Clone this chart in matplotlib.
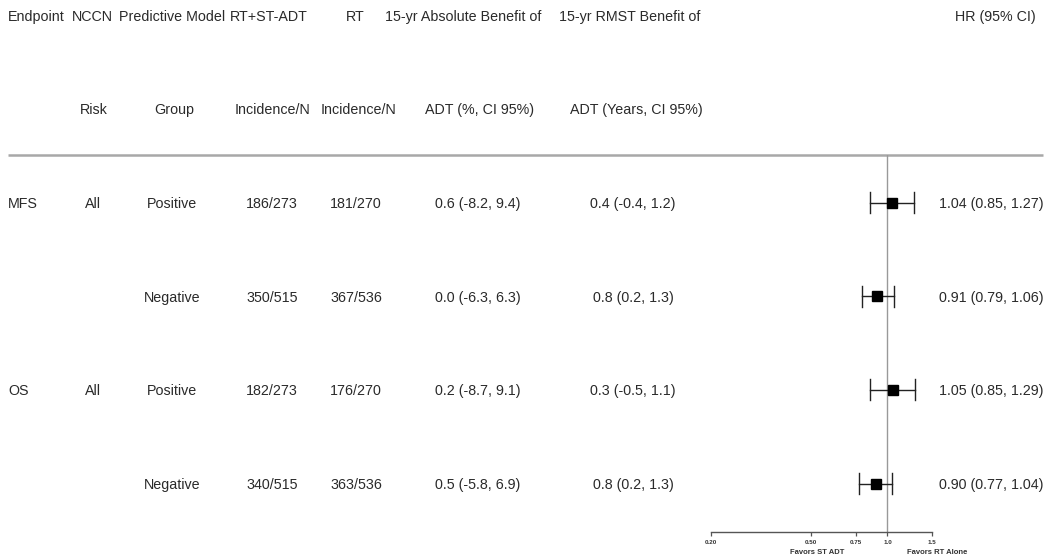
import matplotlib
matplotlib.use("Agg")
import matplotlib.pyplot as plt

plt.rcParams['font.family'] = ['Liberation Sans', 'DejaVu Sans']

# Table contents
header_top = ["Endpoint", "NCCN", "Predictive Model", "RT+ST-ADT", "RT",
              "15-yr Absolute Benefit of", "15-yr RMST Benefit of", "HR (95% CI)"]
header_bottom = ["Risk", "Group", "Incidence/N", "Incidence/N",
                 "ADT (%, CI 95%)", "ADT (Years, CI 95%)"]
endpoints = ["MFS", "", "OS", ""]
nccn = ["All", "", "All", ""]
groups = ["Positive", "Negative", "Positive", "Negative"]
adt_inc = ["186/273", "350/515", "182/273", "340/515"]
rt_inc = ["181/270", "367/536", "176/270", "363/536"]
abs_benefit = ["0.6 (-8.2, 9.4)", "0.0 (-6.3, 6.3)", "0.2 (-8.7, 9.1)", "0.5 (-5.8, 6.9)"]
rmst_benefit = ["0.4 (-0.4, 1.2)", "0.8 (0.2, 1.3)", "0.3 (-0.5, 1.1)", "0.8 (0.2, 1.3)"]
hr = [1.04, 0.91, 1.05, 0.90]
hr_lo = [0.85, 0.79, 0.85, 0.77]
hr_hi = [1.27, 1.06, 1.29, 1.04]
axis_ticks = [0.20, 0.50, 0.75, 1.0, 1.5]
axis_tick_labels = ["0.20", "0.50", "0.75", "1.0", "1.5"]

W, H = 1047, 558
fig = plt.figure(figsize=(W / 100, H / 100), dpi=100)

# Full-figure axes in pixel coordinates for the text table
tab = fig.add_axes([0, 0, 1, 1])
tab.set_xlim(0, W)
tab.set_ylim(H, 0)
tab.axis("off")

txt_color = "#2a2a2a"
fs = 10.3
half_cap = 5.1  # half the cap height in pixels, to place baselines


def put(x, y_mid, s, ha="center"):
    tab.text(x, y_mid + half_cap, s, ha=ha, va="baseline", fontsize=fs, color=txt_color)


# Column header text
head1_x = [8, 92, 172, 269, 355, 463, 630, 995]
head1_ha = ["left"] + ["center"] * 7
for x, ha, t in zip(head1_x, head1_ha, header_top):
    put(x, 15.5, t, ha)

head2_x = [94, 174, 272, 358, 480, 636]
for x, t in zip(head2_x, header_bottom):
    put(x, 109, t)

tab.plot([8, 1043], [155, 155], color="#a8a8a8", lw=1.8, solid_capstyle="butt")

# Table body
row_y = [203, 296.5, 390, 484]
body_x = [8, 92.5, 172.5, 272, 356, 478, 633]
body_ha = ["left"] + ["center"] * 6
columns = [endpoints, nccn, groups, adt_inc, rt_inc, abs_benefit, rmst_benefit]
for i, y in enumerate(row_y):
    for x, ha, col in zip(body_x, body_ha, columns):
        put(x, y, col[i], ha)
    put(991.5, y, f"{hr[i]:.2f} ({hr_lo[i]:.2f}, {hr_hi[i]:.2f})")

# Forest plot axes (log scale), aligned with the table rows in pixel units
x0_px, x1_px = 710.7, 932.0
y_top_px, y_axis_px = 155, 532
ax = fig.add_axes([x0_px / W, 1 - y_axis_px / H, (x1_px - x0_px) / W, (y_axis_px - y_top_px) / H])
ax.set_xscale("log")
ax.set_xlim(0.20, 1.5)
ax.set_ylim(y_axis_px, y_top_px)
ax.patch.set_alpha(0)
for s in ["top", "right", "left"]:
    ax.spines[s].set_visible(False)
ax.spines["bottom"].set_color("#555555")
ax.spines["bottom"].set_linewidth(1.0)
ax.set_yticks([])
ax.xaxis.set_minor_locator(matplotlib.ticker.NullLocator())
ax.set_xticks(axis_ticks)
ax.set_xticklabels(axis_tick_labels, fontsize=4.5, fontweight="bold", color="#333333")
ax.tick_params(axis="x", direction="out", length=3, width=0.9, color="#555555", pad=3)

ax.axvline(1.0, color="#999999", lw=1.0, zorder=1)

for i, y in enumerate(row_y):
    yc = y - 0.5
    ax.plot([hr_lo[i], hr_hi[i]], [yc, yc], color="#222222", lw=1.0, zorder=2)
    ax.plot([hr_lo[i], hr_lo[i]], [yc - 10.5, yc + 10.5], color="#222222", lw=1.0, zorder=2)
    ax.plot([hr_hi[i], hr_hi[i]], [yc - 10.5, yc + 10.5], color="#222222", lw=1.0, zorder=2)
    ax.plot(hr[i], yc, marker="s", markersize=7, color="black", zorder=3)

tab.text(816.7, 552, "Favors ST ADT", ha="center", va="center", fontsize=5.5,
         fontweight="bold", color="#333333")
tab.text(936.7, 552, "Favors RT Alone", ha="center", va="center", fontsize=5.5,
         fontweight="bold", color="#333333")

fig.savefig("out.png", dpi=100)
